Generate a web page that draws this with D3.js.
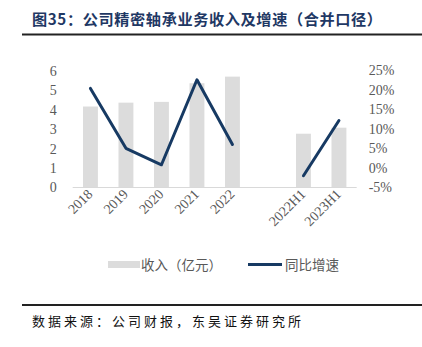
<!DOCTYPE html>
<html>
<head>
<meta charset="utf-8">
<script src="https://cdn.jsdelivr.net/npm/d3@7/dist/d3.min.js"></script>
<style>
  html, body { margin: 0; padding: 0; background: #fff; }
  svg { display: block; }
</style>
</head>
<body>
<svg id="chart" width="422" height="347"></svg>
<script>
// Precision bearing segment: revenue (100m CNY) and YoY growth (%)
const categories = ["2018", "2019", "2020", "2021", "2022", "", "2022H1", "2023H1"];
const revenue = [4.17, 4.37, 4.41, 5.37, 5.71, null, 2.77, 3.08];
const growth = [20.3, 5.0, 0.8, 22.5, 6.0, null, -2.0, 12.1];
const leftTicks = [0, 1, 2, 3, 4, 5, 6];
const rightTicks = [-5, 0, 5, 10, 15, 20, 25];

const svg = d3.select("#chart");
const labelColor = "#595959";
const barColor = "#dcdcdc";
const lineColor = "#173a63";
const serif = "'Liberation Serif', 'Times New Roman', serif";
const cjk = "'Noto Sans CJK SC', sans-serif";

// Header
svg.append("text")
  .attr("x", 32).attr("y", 25)
  .attr("font-family", cjk).attr("font-weight", "bold")
  .attr("font-size", 15.2).attr("letter-spacing", 0.6)
  .attr("fill", "#1f3864")
  .text("图35：公司精密轴承业务收入及增速（合并口径）");
svg.append("line").attr("x1", 22).attr("x2", 422).attr("y1", 34.5).attr("y2", 34.5)
  .attr("stroke", "#222").attr("stroke-width", 2);

// Scales
const x = d3.scaleBand().domain(d3.range(categories.length)).range([72.7, 356.7]).paddingInner(0.58).paddingOuter(0.29);
const yL = d3.scaleLinear().domain([0, 6]).range([187.5, 71]);
const yR = d3.scaleLinear().domain([-5, 25]).range([187.5, 70]);

// Bars
svg.append("g").selectAll("rect")
  .data(revenue.map((v, i) => ({ v, i })).filter(d => d.v != null))
  .join("rect")
  .attr("x", d => x(d.i)).attr("width", x.bandwidth())
  .attr("y", d => yL(d.v)).attr("height", d => yL(0) - yL(d.v))
  .attr("fill", barColor);

// Baseline
svg.append("line").attr("x1", 72.7).attr("x2", 356.7).attr("y1", 187.5).attr("y2", 187.5)
  .attr("stroke", "#d9d9d9").attr("stroke-width", 1);

// Left axis
const axL = svg.append("g").attr("transform", "translate(72.7,0)")
  .call(d3.axisLeft(yL).tickValues(leftTicks).tickSize(0).tickPadding(16).tickFormat(d3.format("d")));
axL.select(".domain").remove();
axL.selectAll("text").attr("font-family", serif).attr("font-size", 14).attr("fill", labelColor);

// Right axis
const axR = svg.append("g").attr("transform", "translate(356.7,0)")
  .call(d3.axisRight(yR).tickValues(rightTicks).tickSize(0).tickPadding(12).tickFormat(d => d + "%"));
axR.select(".domain").remove();
axR.selectAll("text").attr("font-family", serif).attr("font-size", 14).attr("fill", labelColor);

// Category labels, rotated
svg.append("g").selectAll("text")
  .data(categories.map((c, i) => ({ c, i })).filter(d => d.c))
  .join("text")
  .attr("transform", d => `translate(${x(d.i) + x.bandwidth() / 2 + 3},${195}) rotate(-45)`)
  .attr("text-anchor", "end")
  .attr("font-family", serif).attr("font-size", 14).attr("fill", labelColor)
  .text(d => d.c);

// Growth line (gap where no value)
const line = d3.line()
  .defined(d => d.v != null)
  .x(d => x(d.i) + x.bandwidth() / 2)
  .y(d => yR(d.v));
svg.append("path")
  .datum(growth.map((v, i) => ({ v, i })))
  .attr("d", line)
  .attr("fill", "none").attr("stroke", lineColor).attr("stroke-width", 3)
  .attr("stroke-linejoin", "round").attr("stroke-linecap", "round");

// Legend
const lg = svg.append("g");
lg.append("rect").attr("x", 108).attr("y", 261).attr("width", 32).attr("height", 7).attr("fill", barColor);
lg.append("text").attr("x", 141).attr("y", 270)
  .attr("font-family", cjk).attr("font-size", 13.5).attr("fill", labelColor).text("收入（亿元）");
lg.append("line").attr("x1", 248).attr("x2", 282).attr("y1", 264.5).attr("y2", 264.5)
  .attr("stroke", lineColor).attr("stroke-width", 3);
lg.append("text").attr("x", 285).attr("y", 270)
  .attr("font-family", cjk).attr("font-size", 13.5).attr("fill", labelColor).text("同比增速");

// Footer
svg.append("line").attr("x1", 22).attr("x2", 422).attr("y1", 305).attr("y2", 305)
  .attr("stroke", "#222").attr("stroke-width", 2);
svg.append("text").attr("x", 32).attr("y", 326)
  .attr("font-family", cjk).attr("font-size", 13).attr("letter-spacing", 3)
  .attr("fill", "#111")
  .text("数据来源：公司财报，东吴证券研究所");
</script>
</body>
</html>
